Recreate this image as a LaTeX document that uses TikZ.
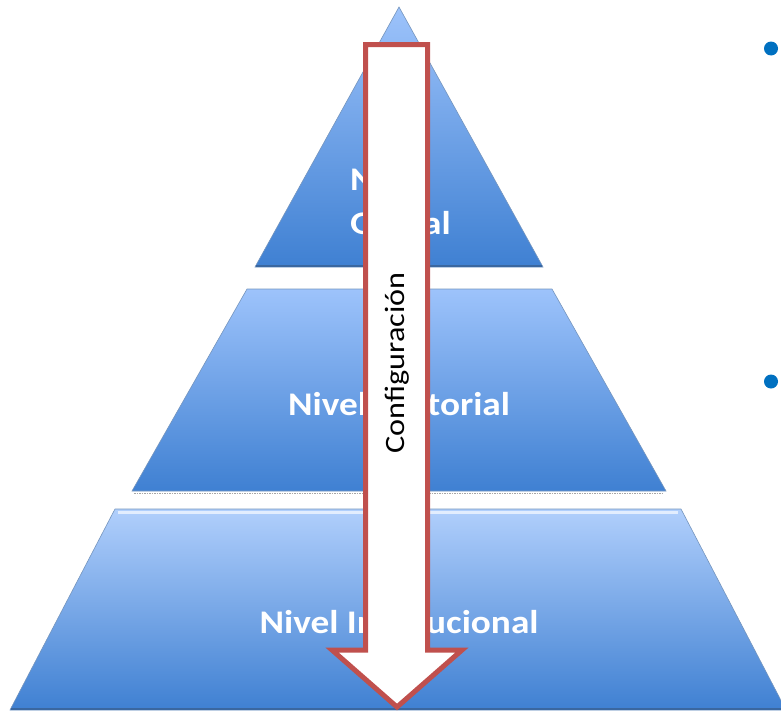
\documentclass[tikz,border=0pt]{standalone}
\usepackage{fontspec}
\usepackage{graphicx}
\setmainfont{Carlito}
\definecolor{lvltop}{HTML}{9DC3FB}
\definecolor{lvlbot}{HTML}{3F80D2}
\definecolor{lvledge}{HTML}{3A67A0}
\definecolor{arrowred}{HTML}{C0504D}
\definecolor{bulletblue}{HTML}{0070C0}
\newcommand{\wide}[1]{\scalebox{1.13}[1]{#1}}
\begin{document}
\begin{tikzpicture}[x=1pt,y=-1pt,
  lvl/.style={top color=lvltop, bottom color=lvlbot, draw=lvledge!70, line width=0.6pt},
  baseedge/.style={draw=lvledge, line width=2.2pt},
  lbl/.style={text=white, font=\bfseries\fontsize{33}{44}\selectfont, inner sep=0pt},
  arrowbox/.style={draw=arrowred, fill=white, line width=5pt, line join=miter},
  bulletdot/.style={circle, fill=bulletblue, minimum size=14pt, inner sep=0pt}]
\useasboundingbox (0,0) rectangle (781,712);
% levels
\path[lvl] (399,7) -- (543,267) -- (255,267) -- cycle;
\draw[baseedge] (256,266) -- (542,266);
\path[lvl] (247,289) -- (552,289) -- (666,491) -- (132,491) -- cycle;
\draw[gray!70, line width=1.2pt, dash pattern=on 1.5pt off 1pt] (134,493.5) -- (664,493.5);
\path[lvl, top color=lvltop!80!white] (115,509) -- (681,509) -- (786,710) -- (10,710) -- cycle;
\draw[white!70!lvltop, line width=3pt] (118,512) -- (678,512);
\draw[baseedge] (11,709) -- (785,709);
% labels
\node[lbl, align=left, anchor=north west] (top) at (350,167) {\wide{Nivel}\\\wide{Global}};
\node[lbl] (mid) at (399,404) {\wide{Nivel Sectorial}};
\node[lbl] (bot) at (399,622) {\wide{Nivel Institucional}};
% arrow
\path[arrowbox] (365.5,44.5) -- (427.5,44.5) -- (427.5,650) -- (462,650) -- (397,707)
  -- (332,650) -- (365.5,650) -- cycle;
\node[rotate=90, font=\fontsize{28}{34}\selectfont, inner sep=0pt] (cfg) at (397,363) {\scalebox{1.15}[1]{Configuración}};
% bullets
\node[bulletdot] (b1) at (771,48.5) {};
\node[bulletdot] (b2) at (771,381.5) {};
\end{tikzpicture}
\end{document}
